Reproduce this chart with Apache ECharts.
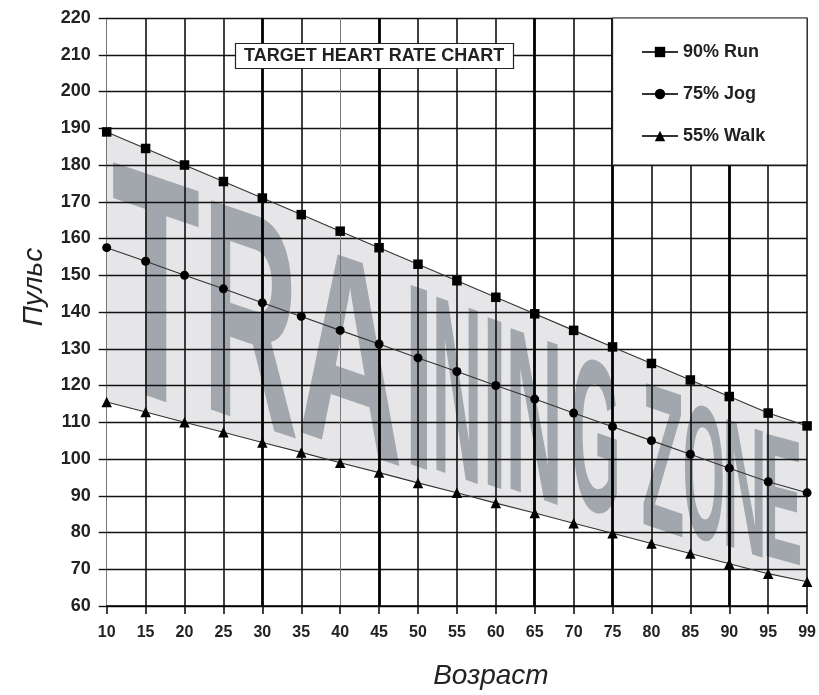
<!DOCTYPE html>
<html>
<head>
<meta charset="utf-8">
<script src="https://cdn.jsdelivr.net/npm/echarts@6/dist/echarts.min.js"></script>
<style>html,body{margin:0;padding:0;background:#fff}#c{width:819px;height:695px}</style>
</head>
<body>
<div id="c"></div>
<script>
// ---------------- data ----------------
const ages = ['10','15','20','25','30','35','40','45','50','55','60','65','70','75','80','85','90','95','99'];
const run  = [189, 184.5, 180, 175.5, 171, 166.5, 162, 157.5, 153, 148.5, 144, 139.5, 135, 130.5, 126, 121.5, 117, 112.5, 109];
const jog  = [157.5, 153.8, 150, 146.3, 142.5, 138.8, 135, 131.3, 127.5, 123.8, 120, 116.3, 112.5, 108.8, 105, 101.3, 97.5, 93.8, 90.8];
const walk = [115.5, 112.8, 110, 107.3, 104.5, 101.8, 99, 96.3, 93.5, 90.8, 88, 85.3, 82.5, 79.8, 77, 74.3, 71.5, 68.8, 66.6];
const seriesNames = ['90% Run', '75% Jog', '55% Walk'];
const yMin = 60, yMax = 220, yStep = 10;
const chartTitle = 'TARGET HEART RATE CHART';
const xName = 'Возраст';
const yName = 'Пульс';
const watermark = 'TRAINING ZONE';

// ---------------- styling ----------------
const boldFont = '"Liberation Sans", Arial, sans-serif';
const thickAges = ['30','45','65','75','90'];
const faintAges = ['40'];
// left/right pixel extents of watermark letters (layout only)
const wmBoxes = [[113,200],[210,297],[300,400],[410,428],[436,478],[487,502],[510,558],[573,617],[643,683],[685,723],[726,763],[766,800]];

const chart = echarts.init(document.getElementById('c'));
const band = run.map((v, i) => +(v - walk[i]).toFixed(2));

const vLines = [];
ages.forEach((a, i) => {
  if (i === 0) return;
  let ls;
  if (thickAges.includes(a)) ls = {width: 2.8, color: '#000', type: 'solid'};
  else if (faintAges.includes(a)) ls = {width: 1, color: '#777', type: 'solid'};
  else ls = {width: 1.6, color: '#111', type: 'solid'};
  vLines.push({xAxis: i, lineStyle: ls});
});

const lineCommon = {
  type: 'line', z: 6, silent: true,
  lineStyle: {color: '#333', width: 1.1},
  itemStyle: {color: '#000'},
  emphasis: {disabled: true}
};

const option = {
  animation: false,
  grid: {left: 106.7, right: 10.7, top: 18, bottom: 82.7},
  title: {
    text: chartTitle, left: 235, top: 43, padding: [4, 9, 4, 9],
    backgroundColor: '#fff', borderColor: '#222', borderWidth: 1.2, z: 9,
    textStyle: {fontFamily: boldFont, fontWeight: 'bold', fontSize: 18, color: '#222'}
  },
  legend: {
    data: seriesNames, orient: 'vertical', left: 636, top: 38,
    itemWidth: 36, itemHeight: 13, itemGap: 24, z: 9, selectedMode: false,
    textStyle: {fontFamily: boldFont, fontWeight: 'bold', fontSize: 18, color: '#222'}
  },
  xAxis: {
    type: 'category', data: ages, boundaryGap: false, z: 3,
    axisLine: {lineStyle: {color: '#000', width: 1.5}},
    axisTick: {length: 8, lineStyle: {color: '#111', width: 1.6}},
    axisLabel: {interval: 0, margin: 19, fontFamily: boldFont, fontWeight: 'bold', fontSize: 16, color: '#222'},
    splitLine: {show: false},
    name: xName, nameLocation: 'middle', nameGap: 56,
    nameTextStyle: {fontFamily: boldFont, fontStyle: 'italic', fontSize: 28, color: '#222', padding: [0, 0, 0, 68]}
  },
  yAxis: {
    type: 'value', min: yMin, max: yMax, interval: yStep, z: 3,
    axisLine: {show: true, lineStyle: {color: '#777', width: 1}},
    axisTick: {show: true, length: 8, lineStyle: {color: '#111', width: 1.4}},
    axisLabel: {margin: 16, fontFamily: boldFont, fontWeight: 'bold', fontSize: 18, color: '#222'},
    splitLine: {lineStyle: {color: '#111', width: 1.4}},
    name: yName, nameLocation: 'middle', nameGap: 58, nameRotate: 90,
    nameTextStyle: {fontFamily: boldFont, fontStyle: 'italic', fontSize: 28, color: '#222', padding: [0, 0, 0, 50]}
  },
  series: [
    {
      name: '_base', type: 'line', data: walk, stack: 'zone', symbol: 'none', silent: true, z: 1,
      lineStyle: {width: 0, opacity: 0},
      markLine: {silent: true, z: 3, symbol: ['none', 'none'], label: {show: false}, animation: false,
                 lineStyle: {type: 'solid', color: '#111', width: 1.6}, emphasis: {disabled: true}, data: vLines}
    },
    {
      name: '_band', type: 'line', data: band, stack: 'zone', symbol: 'none', silent: true, z: 1,
      lineStyle: {width: 0, opacity: 0}, areaStyle: {color: '#e6e6e9', opacity: 1}
    },
    Object.assign({}, lineCommon, {name: seriesNames[0], data: run,  symbol: 'rect', symbolSize: 9.5}),
    Object.assign({}, lineCommon, {name: seriesNames[1], data: jog,  symbol: 'circle', symbolSize: 9}),
    Object.assign({}, lineCommon, {name: seriesNames[2], data: walk, symbol: 'triangle', symbolSize: 10.5})
  ]
};
chart.setOption(option);

// ---------------- legend box (anchored to the data grid) ----------------
function px(i, v) { return chart.convertToPixel({gridIndex: 0}, [i, v]); }
const lb0 = px(ages.indexOf('75'), 220), lb1 = px(ages.length - 1, 180);
chart.setOption({
  graphic: [{
    type: 'rect', silent: true, z: 8,
    shape: {x: lb0[0], y: lb0[1], width: lb1[0] - lb0[0], height: lb1[1] - lb0[1]},
    style: {fill: '#fff', stroke: '#222', lineWidth: 1.2}
  }]
});

// ---------------- watermark "TRAINING ZONE" inside the band ----------------
const x0 = px(0, 100)[0], x1 = px(ages.length - 1, 100)[0];
const step = (x1 - x0) / (ages.length - 1);
function valAt(arr, x) {
  let f = (x - x0) / step;
  f = Math.max(0, Math.min(arr.length - 1, f));
  const i = Math.min(arr.length - 2, Math.floor(f));
  const t = f - i;
  return arr[i] * (1 - t) + arr[i + 1] * t;
}
function yAt(arr, x) { return px(0, valAt(arr, x))[1]; }

const letters = watermark.replace(/\s+/g, '').split('');
const wmFont = 'bold 100px "Liberation Sans"';
const ctx = document.createElement('canvas').getContext('2d');
ctx.font = wmFont; ctx.textAlign = 'center'; ctx.textBaseline = 'middle';
const zr = chart.getZr();
const offTop = 20, offBot = 16;
letters.forEach((ch, k) => {
  const box = wmBoxes[k]; if (!box) return;
  const xl = box[0], xr = box[1], xc = (xl + xr) / 2;
  const top = yAt(run, xc) + offTop, bot = yAt(walk, xc) - offBot;
  const m = ctx.measureText(ch);
  const inkW = (m.actualBoundingBoxLeft + m.actualBoundingBoxRight) || m.width;
  const inkH = (m.actualBoundingBoxAscent + m.actualBoundingBoxDescent) || 72;
  const ox = (m.actualBoundingBoxRight - m.actualBoundingBoxLeft) / 2 || 0;
  const oy = (m.actualBoundingBoxDescent - m.actualBoundingBoxAscent) / 2 || 0;
  const sT = (yAt(run, xr) - yAt(run, xl)) / (xr - xl);
  const sB = (yAt(walk, xr) - yAt(walk, xl)) / (xr - xl);
  const s = (sT + sB) / 2;
  const el = new echarts.graphic.Text({
    x: xc, y: (top + bot) / 2,
    scaleX: (xr - xl) / inkW, scaleY: (bot - top) / inkH,
    skewY: -Math.atan(s),
    z: 1, z2: 1000, silent: true,
    style: {text: ch, x: -ox, y: -oy, font: wmFont, fill: '#a2a6ad', align: 'center', verticalAlign: 'middle'}
  });
  zr.add(el);
});
</script>
</body>
</html>
